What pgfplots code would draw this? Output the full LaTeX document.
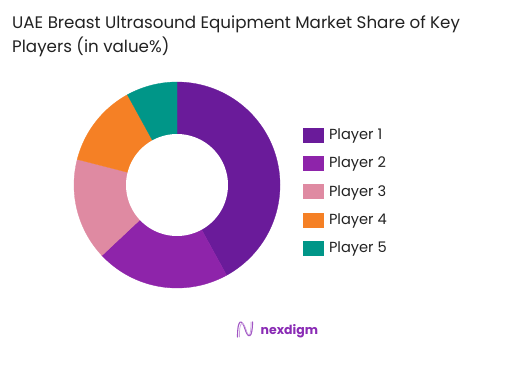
\documentclass[border=0pt]{standalone}
\usepackage{pgfplots}
\pgfplotsset{compat=1.18}
\usepackage{pgfplotstable}
\usepackage{fontspec}
\setmainfont{Poppins}
\definecolor{pA}{HTML}{6A1B9A}
\definecolor{pB}{HTML}{8E24AA}
\definecolor{pC}{HTML}{DF8AA2}
\definecolor{pD}{HTML}{F58025}
\definecolor{pE}{HTML}{009688}
\definecolor{titlec}{HTML}{222222}
\definecolor{logoc}{HTML}{8A2BB5}

\pgfplotstableread{
player share
1 42
2 21
3 16
4 13
5 8
}\shares
\pgfplotstablegetelem{0}{share}\of\shares \edef\sA{\pgfplotsretval}
\pgfplotstablegetelem{1}{share}\of\shares \edef\sB{\pgfplotsretval}
\pgfplotstablegetelem{2}{share}\of\shares \edef\sC{\pgfplotsretval}
\pgfplotstablegetelem{3}{share}\of\shares \edef\sD{\pgfplotsretval}
\pgfplotstablegetelem{4}{share}\of\shares \edef\sE{\pgfplotsretval}
\pgfmathsetmacro\aA{3.6*\sA}
\pgfmathsetmacro\aB{\aA+3.6*\sB}
\pgfmathsetmacro\aC{\aB+3.6*\sC}
\pgfmathsetmacro\aD{\aC+3.6*\sD}
\pgfmathsetmacro\aE{\aD+3.6*\sE}

\begin{document}
\begin{tikzpicture}[x=1pt,y=1pt]
\fill[white] (0,0) rectangle (529,368);
\node[anchor=base west, inner sep=0pt, text=titlec, font=\fontsize{16.7}{20}\selectfont] at (12,339.7) {UAE Breast Ultrasound Equipment Market Share of Key};
\node[anchor=base west, inner sep=0pt, text=titlec, font=\fontsize{16.7}{20}\selectfont] at (12,315.3) {Players (in value\%)};
\begin{axis}[
  at={(177pt,183pt)}, anchor=center,
  scale only axis, width=206pt, height=206pt,
  xmin=-103, xmax=103, ymin=-103, ymax=103,
  hide axis, clip=false,
  legend style={at={(1.1117,0.778)}, anchor=north west, draw=none, fill=none,
    inner sep=0pt, row sep=13.9pt, font=\fontsize{14.6}{15}\selectfont,
    nodes={inner sep=0pt, text=titlec}},
  legend cell align=left,
  legend image code/.code={\fill[#1] (0pt,-7pt) rectangle (19.5pt,7pt); \path (25.5pt,0pt);},
]
\addplot[fill=pA, draw=pA, line width=0.3pt, domain=0:\aA, samples=80, variable=\t] ({103*sin(t)},{103*cos(t)}) -- (axis cs:0,0) -- cycle;
\addlegendentry{Player 1}
\addplot[fill=pB, draw=pB, line width=0.3pt, domain=\aA:\aB, samples=50, variable=\t] ({103*sin(t)},{103*cos(t)}) -- (axis cs:0,0) -- cycle;
\addlegendentry{Player 2}
\addplot[fill=pC, draw=pC, line width=0.3pt, domain=\aB:\aC, samples=40, variable=\t] ({103*sin(t)},{103*cos(t)}) -- (axis cs:0,0) -- cycle;
\addlegendentry{Player 3}
\addplot[fill=pD, draw=pD, line width=0.3pt, domain=\aC:\aD, samples=40, variable=\t] ({103*sin(t)},{103*cos(t)}) -- (axis cs:0,0) -- cycle;
\addlegendentry{Player 4}
\addplot[fill=pE, draw=pE, line width=0.3pt, domain=\aD:\aE, samples=30, variable=\t] ({103*sin(t)},{103*cos(t)}) -- (axis cs:0,0) -- cycle;
\addlegendentry{Player 5}
\addplot[forget plot, fill=white, draw=none, domain=0:360, samples=120, variable=\t] ({51*sin(t)},{51*cos(t)}) -- cycle;
\end{axis}
% logo
\draw[logoc!80, line width=1.1pt, line cap=round] (237.5,31) .. controls (237.5,50) and (242,49) .. (245,39) .. controls (248,29) and (252.5,29) .. (252.5,46);
\draw[logoc!45, line width=0.7pt, line cap=round] (239.5,31) .. controls (239,47) and (243,48) .. (246,38.5) .. controls (248.5,30) and (251,30.5) .. (251,46);
\node[anchor=base west, inner sep=0pt, text=logoc, font=\fontsize{12.5}{12}\selectfont\bfseries] at (260.5,33.5) {nexdigm};
\end{tikzpicture}
\end{document}
